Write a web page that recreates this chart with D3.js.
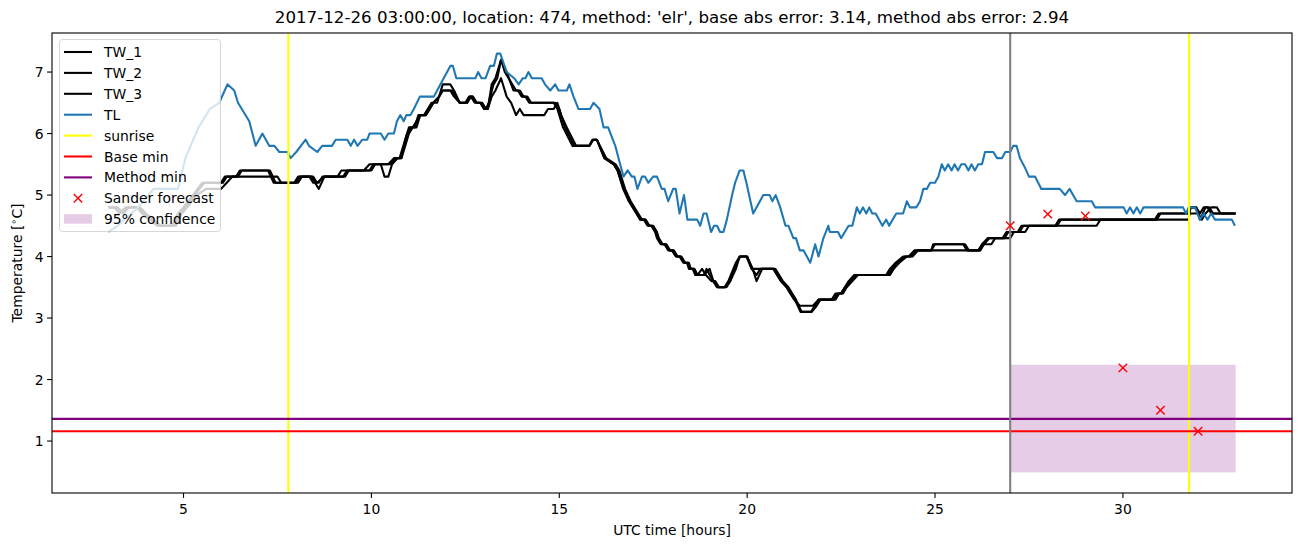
<!DOCTYPE html>
<html>
<head>
<meta charset="utf-8">
<script src="https://cdn.jsdelivr.net/npm/d3@7"></script>
<style>
  html, body { margin: 0; padding: 0; background: #fff; }
  svg { display: block; font-family: "DejaVu Sans", sans-serif; }
</style>
</head>
<body>
<svg id="chart" width="1302" height="547"></svg>
<script>
// ---------------- data ----------------
const titleText = "2017-12-26 03:00:00, location: 474, method: 'elr', base abs error: 3.14, method abs error: 2.94";
const xTicks = [5, 10, 15, 20, 25, 30];
const yTicks = [1, 2, 3, 4, 5, 6, 7];

// [hour, temperature] vertices
const TW_1 = [[3.0,4.8],[3.2,4.8],[3.3,4.7],[3.45,4.8],[3.8,4.8],[3.95,4.7],[4.15,4.6],[4.35,4.5],[4.75,4.5],[4.9,4.7],[5.05,4.8],[5.3,5.0],[5.55,5.2],[6.0,5.2],[6.1,5.3],[6.45,5.3],[6.55,5.4],[7.3,5.4],[7.45,5.2],[8.0,5.2],[8.1,5.3],[8.4,5.3],[8.5,5.2],[8.6,5.1],[8.75,5.3],[9.25,5.3],[9.35,5.4],[9.95,5.4],[10.05,5.5],[10.5,5.5],[10.65,5.6],[10.8,5.6],[10.9,5.9],[11.0,6.1],[11.15,6.1],[11.25,6.3],[11.4,6.3],[11.5,6.4],[11.6,6.5],[11.75,6.5],[11.9,6.8],[12.1,6.8],[12.2,6.7],[12.35,6.5],[12.5,6.5],[12.6,6.6],[12.7,6.6],[12.8,6.5],[12.9,6.5],[13.0,6.4],[13.1,6.4],[13.2,6.8],[13.3,6.9],[13.45,7.2],[13.6,7.0],[13.78,6.7],[13.9,6.7],[14.0,6.6],[14.1,6.6],[14.2,6.5],[14.9,6.5],[15.0,6.4],[15.15,6.1],[15.4,5.8],[15.8,5.8],[15.9,5.9],[16.0,5.9],[16.2,5.6],[16.45,5.5],[16.55,5.4],[16.7,5.1],[16.85,4.9],[17.05,4.7],[17.15,4.6],[17.25,4.6],[17.35,4.5],[17.45,4.5],[17.55,4.4],[17.6,4.3],[17.7,4.2],[17.8,4.2],[17.9,4.1],[18.0,4.1],[18.1,4.0],[18.2,4.0],[18.3,3.9],[18.4,3.9],[18.45,3.8],[18.55,3.8],[18.62,3.7],[18.85,3.7],[18.92,3.8],[19.0,3.7],[19.1,3.6],[19.2,3.5],[19.4,3.5],[19.5,3.6],[19.7,3.9],[19.8,4.0],[19.98,4.0],[20.12,3.8],[20.25,3.7],[20.35,3.8],[20.7,3.8],[20.9,3.6],[21.05,3.5],[21.15,3.4],[21.25,3.3],[21.4,3.2],[21.75,3.2],[21.9,3.3],[22.3,3.3],[22.4,3.4],[22.5,3.4],[22.6,3.5],[22.75,3.6],[22.9,3.7],[23.75,3.7],[23.85,3.8],[24.0,3.9],[24.2,4.0],[24.35,4.0],[24.5,4.1],[24.9,4.1],[24.95,4.2],[25.8,4.2],[25.9,4.1],[26.2,4.1],[26.3,4.2],[26.45,4.3],[26.85,4.3],[26.95,4.4],[27.2,4.4],[27.3,4.5],[28.2,4.5],[28.3,4.6],[30.85,4.6],[30.95,4.7],[31.75,4.7],[31.8,4.8],[31.95,4.8],[32.05,4.7],[32.15,4.8],[32.25,4.8],[32.35,4.7],[33.0,4.7]];

const TW_2 = [[3.0,4.8],[3.25,4.8],[3.4,4.7],[3.55,4.8],[3.85,4.8],[4.0,4.7],[4.2,4.6],[4.4,4.5],[4.8,4.5],[4.95,4.7],[5.1,4.8],[5.35,5.0],[5.6,5.1],[6.0,5.1],[6.15,5.2],[6.3,5.3],[7.5,5.3],[7.6,5.2],[8.05,5.2],[8.15,5.3],[8.45,5.3],[8.55,5.2],[8.75,5.3],[9.1,5.3],[9.2,5.4],[9.8,5.4],[9.95,5.5],[10.25,5.5],[10.35,5.3],[10.45,5.3],[10.55,5.5],[10.7,5.6],[10.8,5.6],[10.9,5.8],[11.0,6.0],[11.1,6.1],[11.2,6.2],[11.3,6.3],[11.45,6.3],[11.55,6.4],[11.65,6.5],[11.8,6.6],[11.9,6.7],[12.1,6.7],[12.2,6.6],[12.35,6.5],[12.55,6.5],[12.62,6.6],[12.7,6.6],[12.8,6.5],[12.9,6.5],[13.0,6.4],[13.1,6.4],[13.2,6.6],[13.3,6.7],[13.45,6.9],[13.6,6.6],[13.72,6.5],[13.85,6.3],[13.95,6.4],[14.05,6.3],[14.6,6.3],[14.7,6.4],[14.85,6.4],[14.95,6.5],[15.05,6.3],[15.2,6.1],[15.45,5.8],[15.8,5.8],[15.9,5.9],[16.0,5.9],[16.25,5.6],[16.5,5.5],[16.6,5.4],[16.75,5.1],[16.9,4.9],[17.1,4.7],[17.2,4.6],[17.3,4.6],[17.4,4.5],[17.5,4.5],[17.6,4.4],[17.65,4.3],[17.75,4.2],[17.85,4.2],[17.95,4.1],[18.05,4.1],[18.15,4.0],[18.25,4.0],[18.35,3.9],[18.45,3.9],[18.5,3.8],[18.6,3.8],[18.68,3.7],[18.8,3.8],[18.9,3.7],[19.05,3.6],[19.15,3.6],[19.25,3.5],[19.4,3.5],[19.55,3.6],[19.7,3.8],[19.8,4.0],[20.0,4.0],[20.15,3.8],[20.25,3.6],[20.4,3.8],[20.75,3.8],[20.95,3.6],[21.1,3.5],[21.2,3.4],[21.3,3.3],[21.45,3.1],[21.72,3.1],[21.85,3.2],[21.95,3.3],[22.35,3.3],[22.45,3.4],[22.55,3.4],[22.65,3.5],[22.8,3.6],[22.95,3.7],[23.7,3.7],[23.8,3.8],[23.95,3.9],[24.15,4.0],[24.3,4.0],[24.45,4.1],[26.2,4.1],[26.3,4.2],[26.5,4.2],[26.6,4.3],[27.0,4.3],[27.1,4.4],[27.4,4.4],[27.5,4.5],[29.3,4.5],[29.4,4.6],[31.75,4.6],[31.8,4.8],[31.95,4.8],[32.05,4.6],[32.2,4.8],[32.3,4.8],[32.4,4.7],[33.0,4.7]];

const TW_3 = [[3.0,4.8],[3.15,4.8],[3.3,4.7],[3.5,4.8],[3.75,4.8],[3.9,4.7],[4.1,4.6],[4.3,4.5],[4.7,4.5],[4.85,4.7],[5.0,4.8],[5.25,5.0],[5.5,5.2],[6.05,5.2],[6.15,5.3],[6.4,5.3],[6.5,5.4],[7.25,5.4],[7.4,5.2],[7.95,5.2],[8.05,5.3],[8.35,5.3],[8.45,5.2],[8.6,5.2],[8.7,5.3],[9.3,5.3],[9.4,5.4],[10.0,5.4],[10.1,5.5],[10.45,5.5],[10.6,5.6],[10.75,5.6],[10.85,5.8],[10.95,6.0],[11.05,6.1],[11.2,6.1],[11.3,6.3],[11.45,6.3],[11.55,6.4],[11.65,6.5],[11.8,6.6],[11.9,6.7],[12.15,6.7],[12.25,6.6],[12.35,6.5],[12.55,6.5],[12.65,6.6],[12.75,6.5],[12.95,6.5],[13.05,6.4],[13.12,6.5],[13.25,6.8],[13.35,6.9],[13.45,7.2],[13.55,7.0],[13.75,6.8],[13.85,6.7],[13.95,6.7],[14.05,6.6],[14.15,6.6],[14.25,6.5],[14.85,6.5],[14.95,6.4],[15.1,6.1],[15.35,5.8],[15.8,5.8],[15.88,5.9],[16.0,5.9],[16.2,5.6],[16.45,5.5],[16.55,5.4],[16.72,5.1],[16.88,4.9],[17.08,4.7],[17.18,4.6],[17.28,4.6],[17.38,4.5],[17.48,4.5],[17.58,4.4],[17.63,4.3],[17.73,4.2],[17.83,4.2],[17.93,4.1],[18.03,4.1],[18.13,4.0],[18.23,4.0],[18.33,3.9],[18.43,3.9],[18.48,3.8],[18.58,3.8],[18.65,3.7],[18.85,3.7],[19.0,3.8],[19.1,3.6],[19.2,3.5],[19.45,3.5],[19.55,3.6],[19.72,3.9],[19.82,4.0],[20.0,4.0],[20.12,3.8],[20.7,3.8],[20.9,3.6],[21.05,3.5],[21.15,3.4],[21.27,3.3],[21.42,3.1],[21.7,3.1],[21.8,3.2],[21.9,3.3],[22.25,3.3],[22.35,3.4],[22.5,3.4],[22.6,3.5],[22.7,3.6],[22.85,3.7],[23.8,3.7],[23.9,3.8],[24.05,3.9],[24.25,4.0],[24.4,4.0],[24.55,4.1],[24.9,4.1],[25.0,4.2],[25.75,4.2],[25.85,4.1],[26.15,4.1],[26.25,4.2],[26.4,4.3],[26.8,4.3],[26.9,4.4],[27.25,4.4],[27.35,4.5],[28.25,4.5],[28.35,4.6],[30.9,4.6],[31.0,4.7],[32.0,4.7],[32.1,4.6],[32.2,4.7],[32.35,4.8],[32.5,4.8],[32.6,4.7],[33.0,4.7]];

const TL = [[3.0,4.4],[3.25,4.5],[3.8,4.8],[4.2,5.1],[4.45,5.1],[4.85,5.1],[5.05,5.6],[5.4,6.1],[5.7,6.4],[5.95,6.5],[6.17,6.8],[6.35,6.7],[6.45,6.5],[6.75,6.2],[6.92,5.8],[7.1,6.0],[7.28,5.8],[7.42,5.8],[7.55,5.7],[7.77,5.7],[7.85,5.6],[8.0,5.7],[8.25,5.9],[8.34,5.8],[8.56,5.7],[8.69,5.8],[8.95,5.8],[9.05,5.9],[9.36,5.9],[9.45,5.8],[9.54,5.9],[9.63,5.8],[9.76,5.9],[9.89,5.9],[9.95,6.0],[10.25,6.0],[10.35,5.9],[10.45,6.0],[10.6,6.0],[10.68,6.2],[10.77,6.3],[10.86,6.2],[10.93,6.3],[11.04,6.3],[11.13,6.4],[11.29,6.6],[11.66,6.6],[12.1,7.1],[12.17,7.1],[12.26,6.9],[12.77,6.9],[12.84,7.0],[12.93,6.9],[13.04,6.9],[13.16,7.1],[13.26,7.1],[13.34,7.3],[13.43,7.3],[13.6,7.0],[13.8,6.9],[13.92,6.8],[14.03,6.9],[14.1,6.9],[14.18,7.0],[14.27,6.9],[14.53,6.9],[14.62,6.8],[14.76,6.7],[14.89,6.8],[14.98,6.7],[15.2,6.7],[15.27,6.8],[15.38,6.6],[15.51,6.4],[15.82,6.4],[15.91,6.5],[16.07,6.4],[16.18,6.1],[16.3,6.1],[16.49,5.8],[16.62,5.5],[16.71,5.3],[16.82,5.4],[16.93,5.3],[17.0,5.3],[17.08,5.1],[17.2,5.3],[17.28,5.3],[17.37,5.2],[17.5,5.3],[17.6,5.3],[17.73,5.1],[17.8,5.1],[17.9,4.9],[18.03,5.1],[18.1,5.1],[18.2,4.7],[18.32,5.0],[18.41,4.6],[18.67,4.6],[18.75,4.5],[18.84,4.7],[18.92,4.7],[19.04,4.4],[19.12,4.5],[19.2,4.5],[19.28,4.4],[19.37,4.4],[19.46,4.6],[19.6,5.0],[19.68,5.2],[19.8,5.4],[19.9,5.4],[19.98,5.2],[20.16,4.7],[20.43,5.0],[20.6,5.0],[20.67,4.9],[20.76,5.0],[20.88,4.8],[21.02,4.5],[21.1,4.5],[21.23,4.3],[21.3,4.3],[21.4,4.1],[21.5,4.1],[21.68,3.9],[21.81,4.2],[21.9,4.0],[22.03,4.3],[22.16,4.5],[22.2,4.4],[22.42,4.4],[22.5,4.3],[22.6,4.4],[22.7,4.5],[22.8,4.5],[22.92,4.8],[23.0,4.7],[23.08,4.8],[23.17,4.7],[23.25,4.8],[23.33,4.7],[23.42,4.7],[23.6,4.5],[23.7,4.6],[23.78,4.5],[23.87,4.6],[23.97,4.7],[24.15,4.7],[24.25,4.9],[24.33,4.8],[24.5,4.8],[24.6,4.9],[24.69,5.1],[24.78,5.1],[24.87,5.2],[25.0,5.2],[25.09,5.3],[25.18,5.5],[25.26,5.4],[25.35,5.5],[25.44,5.4],[25.52,5.5],[25.61,5.4],[25.7,5.5],[25.8,5.5],[25.89,5.4],[25.97,5.5],[26.06,5.4],[26.15,5.5],[26.25,5.5],[26.33,5.7],[26.55,5.7],[26.65,5.6],[26.78,5.6],[26.87,5.7],[27.0,5.7],[27.08,5.8],[27.17,5.8],[27.26,5.6],[27.39,5.45],[27.5,5.3],[27.66,5.3],[27.83,5.1],[28.32,5.1],[28.46,5.0],[28.58,5.1],[28.77,4.9],[29.17,4.9],[29.26,4.8],[30.02,4.8],[30.1,4.7],[30.19,4.8],[30.28,4.7],[30.37,4.8],[30.46,4.7],[30.55,4.8],[31.6,4.8],[31.68,4.7],[31.75,4.8],[31.92,4.8],[32.05,4.6],[32.15,4.7],[32.25,4.6],[32.35,4.7],[32.45,4.6],[32.9,4.6],[32.98,4.5]];

const sunriseHours = [7.79, 31.76];
const forecastStart = 27.0;
const baseMin = 1.16;
const methodMin = 1.36;
const sanderHours = [27, 28, 29, 30, 31, 32];
const sanderTemps = [4.5, 4.69, 4.66, 2.19, 1.5, 1.16];
const confHours = [27.0, 33.0];
const confTemps = [0.49, 2.24];

const legendLabels = ["TW_1", "TW_2", "TW_3", "TL", "sunrise", "Base min", "Method min", "Sander forecast", "95% confidence"];

// ---------------- drawing ----------------
const LW = 2.08;  // 1.5pt at 100 dpi
const svg = d3.select("#chart");
const L = 52, R = 1292, T = 33, B = 493;
const x = d3.scaleLinear().domain([1.5, 34.5]).range([L, R]);
const y = d3.scaleLinear().domain([0.155, 7.635]).range([B, T]);

svg.append("defs").append("clipPath").attr("id", "clip")
  .append("rect").attr("x", L).attr("y", T).attr("width", R - L).attr("height", B - T);

const plot = svg.append("g").attr("clip-path", "url(#clip)");

// confidence box
plot.append("rect")
  .attr("x", x(confHours[0])).attr("width", x(confHours[1]) - x(confHours[0]))
  .attr("y", y(confTemps[1])).attr("height", y(confTemps[0]) - y(confTemps[1]))
  .attr("fill", "purple").attr("fill-opacity", 0.2);

const line = d3.line().x(d => x(d[0])).y(d => y(d[1]));
const twSeries = [TW_1, TW_2, TW_3];
twSeries.forEach(s => {
  plot.append("path").datum(s).attr("d", line)
    .attr("fill", "none").attr("stroke", "black").attr("stroke-width", LW)
    .attr("stroke-linejoin", "round");
});
plot.append("path").datum(TL).attr("d", line)
  .attr("fill", "none").attr("stroke", "#1f77b4").attr("stroke-width", LW)
  .attr("stroke-linejoin", "round");

// sunrise lines
sunriseHours.forEach(h => {
  plot.append("line").attr("x1", x(h)).attr("x2", x(h)).attr("y1", T).attr("y2", B)
    .attr("stroke", "yellow").attr("stroke-width", LW);
});
// base / method min
plot.append("line").attr("x1", L).attr("x2", R).attr("y1", y(baseMin)).attr("y2", y(baseMin))
  .attr("stroke", "red").attr("stroke-width", LW);
plot.append("line").attr("x1", L).attr("x2", R).attr("y1", y(methodMin)).attr("y2", y(methodMin))
  .attr("stroke", "purple").attr("stroke-width", LW);
// forecast start
plot.append("line").attr("x1", x(forecastStart)).attr("x2", x(forecastStart)).attr("y1", T).attr("y2", B)
  .attr("stroke", "gray").attr("stroke-width", LW);

// sander markers
function xMark(g, cx, cy, r) {
  g.append("path").attr("d", `M${cx - r},${cy - r}L${cx + r},${cy + r}M${cx - r},${cy + r}L${cx + r},${cy - r}`)
    .attr("stroke", "red").attr("stroke-width", 1.4).attr("fill", "none");
}
sanderHours.forEach((h, i) => xMark(plot, x(h), y(sanderTemps[i]), 4.2));

// axes frame
svg.append("rect").attr("x", L).attr("y", T).attr("width", R - L).attr("height", B - T)
  .attr("fill", "none").attr("stroke", "black").attr("stroke-width", 1.1);

// ticks
const ax = svg.append("g");
xTicks.forEach(t => {
  ax.append("line").attr("x1", x(t)).attr("x2", x(t)).attr("y1", B).attr("y2", B + 4.9)
    .attr("stroke", "black").attr("stroke-width", 1.1);
  ax.append("text").attr("x", x(t)).attr("y", B + 21).attr("text-anchor", "middle")
    .attr("font-size", "13.9px").attr("fill", "black").text(t);
});
yTicks.forEach(t => {
  ax.append("line").attr("x1", L - 4.9).attr("x2", L).attr("y1", y(t)).attr("y2", y(t))
    .attr("stroke", "black").attr("stroke-width", 1.1);
  ax.append("text").attr("x", L - 8.5).attr("y", y(t)).attr("dy", "0.36em").attr("text-anchor", "end")
    .attr("font-size", "13.9px").attr("fill", "black").text(t);
});

svg.append("text").attr("x", (L + R) / 2).attr("y", 535).attr("text-anchor", "middle")
  .attr("font-size", "13.9px").text("UTC time [hours]");
const yl = svg.append("text").attr("transform", `translate(22,${(T + B) / 2}) rotate(-90)`)
  .attr("text-anchor", "middle").attr("font-size", "13.9px");
yl.append("tspan").text("Temperature [");
yl.append("tspan").attr("font-size", "9.7px").attr("dy", "-5").text("∘");
yl.append("tspan").attr("dy", "5").text("C]");

svg.append("text").attr("x", (L + R) / 2).attr("y", 23).attr("text-anchor", "middle")
  .attr("font-size", "16.67px").text(titleText);

// legend
const lg = svg.append("g");
lg.append("rect").attr("x", 59.5).attr("y", 39.5).attr("width", 161).attr("height", 192).attr("rx", 3)
  .attr("fill", "white").attr("fill-opacity", 0.8).attr("stroke", "#cccccc").attr("stroke-opacity", 0.8)
  .attr("stroke-width", 1);
const legendColors = ["black", "black", "black", "#1f77b4", "yellow", "red", "purple", "red", "purple"];
legendLabels.forEach((lab, i) => {
  const cy = 52 + i * 20.9;
  if (i < 7) {
    lg.append("line").attr("x1", 64).attr("x2", 92).attr("y1", cy).attr("y2", cy)
      .attr("stroke", legendColors[i]).attr("stroke-width", LW);
  } else if (i === 7) {
    xMark(lg, 78, cy, 4.2);
  } else {
    lg.append("rect").attr("x", 64).attr("y", cy - 5).attr("width", 28).attr("height", 9.5)
      .attr("fill", "purple").attr("fill-opacity", 0.2);
  }
  lg.append("text").attr("x", 104).attr("y", cy).attr("dy", "0.36em")
    .attr("font-size", "13.9px").text(lab);
});
</script>
</body>
</html>
